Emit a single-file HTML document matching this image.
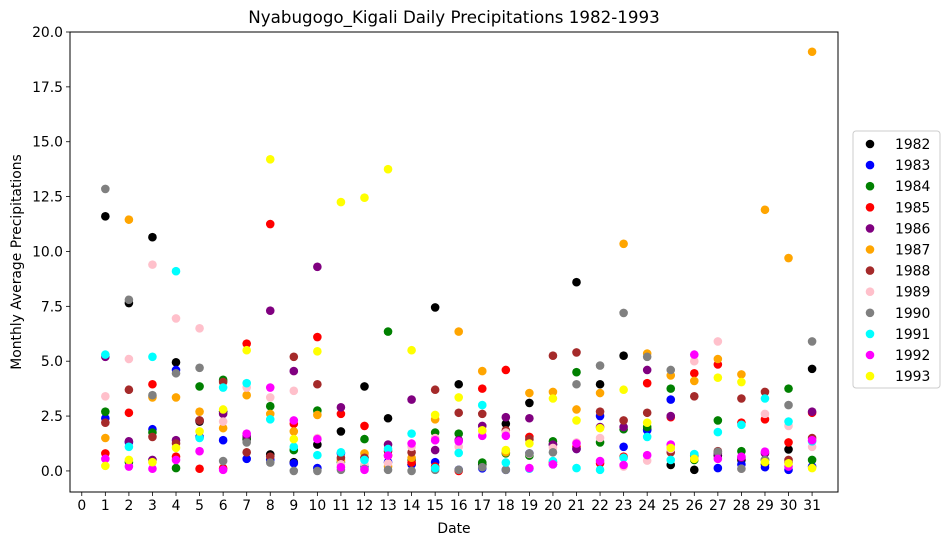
<!DOCTYPE html>
<html><head><meta charset="utf-8"><style>
body{margin:0;background:#fff;}
svg{display:block;font-family:"DejaVu Sans","Liberation Sans",sans-serif;}
</style></head><body>
<svg id="chart" width="947" height="545">
<text x="454" y="23" text-anchor="middle" font-size="16.7">Nyabugogo_Kigali Daily Precipitations 1982-1993</text>
<text transform="translate(21,262) rotate(-90)" text-anchor="middle" font-size="13.9">Monthly Average Precipitations</text>
<text x="454" y="533" text-anchor="middle" font-size="13.9">Date</text>
<g id="marks"></g>
<g id="axes"></g>
<g id="legend"></g>
</svg>
<script>
const days = Array.from({length:31},(_,i)=>i+1);
const years = ["1982","1983","1984","1985","1986","1987","1988","1989","1990","1991","1992","1993"];
const colors = ["black","blue","green","red","purple","orange","brown","pink","gray","cyan","magenta","yellow"];
const s1982=[11.6,7.65,10.65,4.95,2.25,2.7,1.45,0.75,0.4,1.2,1.8,3.85,2.4,0.3,7.45,3.95,0.3,2.15,3.1,1.2,8.6,3.95,5.25,1.9,0.27,0.05,0.7,0.5,0.3,0.98,4.65];
const s1983=[2.4,1.3,1.9,4.6,1.55,1.4,0.55,0.5,0.35,0.13,0.8,0.2,0.4,0.3,0.4,0.05,0.12,0.05,0.8,0.3,1.0,2.5,1.1,1.85,3.25,0.7,0.13,0.3,0.17,0.05,0.2];
const s1984=[2.7,0.4,1.75,0.13,3.85,4.15,1.5,2.95,0.95,2.75,0.4,1.45,6.35,0.5,1.75,1.7,0.38,0.8,0.7,1.35,4.5,1.3,1.9,2.0,3.75,0.5,2.3,0.9,0.5,3.75,0.5];
const s1985=[0.8,2.65,3.95,0.65,0.1,0.12,5.8,11.25,2.15,6.1,2.6,2.05,0.7,0.38,0.2,0.0,3.75,4.6,1.55,0.4,1.1,0.35,0.65,4.0,2.45,4.45,4.85,2.2,2.35,1.3,2.65];
const s1986=[5.2,1.35,0.5,1.4,2.3,2.6,1.6,7.3,4.55,9.3,2.9,0.6,1.2,3.25,0.95,1.4,2.05,2.45,2.4,1.2,1.0,2.0,2.0,4.6,2.5,0.75,0.8,0.6,0.8,0.4,2.7];
const s1987=[1.5,11.45,3.35,3.35,2.7,1.95,3.45,2.6,1.8,2.55,0.5,0.8,0.2,0.6,2.35,6.35,4.55,0.85,3.55,3.6,2.8,3.55,10.35,5.35,4.35,4.1,5.1,4.4,11.9,9.7,19.1];
const s1988=[2.2,3.7,1.55,1.25,2.3,4.05,0.85,0.65,5.2,3.95,0.6,0.6,0.9,0.85,3.7,2.65,2.6,1.85,1.45,5.25,5.4,2.7,2.3,2.65,0.85,3.4,0.9,3.3,3.6,0.5,1.5];
const s1989=[3.4,5.1,9.4,6.95,6.5,2.25,3.8,3.35,3.65,1.5,0.3,0.3,0.35,1.1,1.5,1.1,1.8,1.75,0.78,1.05,1.3,1.5,0.2,0.47,1.0,5.0,5.9,0.1,2.6,2.05,1.1];
const s1990=[12.85,7.8,3.45,4.45,4.7,0.45,1.3,0.38,0.0,0.0,0.05,0.1,0.05,0.0,0.05,0.05,0.17,0.05,0.8,0.85,3.95,4.8,7.2,5.2,4.6,0.7,0.87,0.1,0.5,3.0,5.9];
const s1991=[5.3,1.1,5.2,9.1,1.5,3.8,4.0,2.35,1.1,0.72,0.85,0.5,1.0,1.7,0.13,0.82,3.0,0.38,0.1,0.45,0.13,0.05,0.6,1.55,0.5,0.77,1.77,2.1,3.3,2.25,1.35];
const s1992=[0.55,0.2,0.1,0.5,0.9,0.05,1.7,3.8,2.3,1.45,0.17,0.05,0.7,1.25,1.4,1.35,1.6,1.6,0.13,0.3,1.25,0.45,0.27,0.72,1.2,5.3,0.55,0.65,0.88,0.2,1.4];
const s1993=[0.23,0.5,0.4,1.05,1.8,2.8,5.5,14.2,1.45,5.45,12.25,12.45,13.75,5.5,2.55,3.35,1.85,0.95,1.25,3.3,2.3,1.95,3.7,2.2,1.05,0.55,4.25,4.05,0.4,0.35,0.13];
const xTicks = Array.from({length:32},(_,i)=>i);
const yTicks = [0,2.5,5,7.5,10,12.5,15,17.5,20];
const yTickLabels = ["0.0","2.5","5.0","7.5","10.0","12.5","15.0","17.5","20.0"];
const series=[s1982,s1983,s1984,s1985,s1986,s1987,s1988,s1989,s1990,s1991,s1992,s1993];

const NS="http://www.w3.org/2000/svg";
const L=70,R=838,T=32,B=492;
const xMin=-0.5,xMax=32.1,yMin=-0.96,yMax=20.0;
const xs=v=>L+(v-xMin)/(xMax-xMin)*(R-L);
const ys=v=>B-(v-yMin)/(yMax-yMin)*(B-T);
function mk(tag,attrs,parent){const e=document.createElementNS(NS,tag);for(const k in attrs)e.setAttribute(k,attrs[k]);parent.appendChild(e);return e;}
const marks=document.getElementById('marks');
series.forEach((arr,si)=>{
  const g=mk('g',{},marks);
  
  
  arr.forEach((v,i)=>{
    const c=mk('circle',{cx:xs(days[i]).toFixed(2),cy:ys(v).toFixed(2),r:4.3,fill:colors[si]},g);
    
    
  });
});
const axes=document.getElementById('axes');
const frame=mk('rect',{x:L,y:T,width:R-L,height:B-T,fill:'none',stroke:'#000','stroke-width':1},axes);


xTicks.forEach(t=>{
  const x=xs(t);
  mk('line',{x1:x,x2:x,y1:B,y2:B+4,stroke:'#000','stroke-width':0.8},axes);
  const tx=mk('text',{x:x,y:B+18,'text-anchor':'middle','font-size':13.9},axes);
  tx.textContent=String(t);
  
  
});
yTicks.forEach((t,i)=>{
  const y=ys(t);
  mk('line',{x1:L-4,x2:L,y1:y,y2:y,stroke:'#000','stroke-width':0.8},axes);
  const tx=mk('text',{x:L-7,y:y+5,'text-anchor':'end','font-size':13.9},axes);
  tx.textContent=yTickLabels[i];
  
  
});
const lg=document.getElementById('legend');
const box=mk('rect',{x:853,y:131,width:87,height:257,rx:3,fill:'#fff',stroke:'#ccc','stroke-width':1},lg);


years.forEach((y,i)=>{
  const cy=144+i*21.1;
  const c=mk('circle',{cx:870,cy:cy,r:4.3,fill:colors[i]},lg);
  
  
  const t=mk('text',{x:895,y:cy+5,'font-size':13.9},lg);
  t.textContent=y;
  
  
});
</script>
</body></html>
